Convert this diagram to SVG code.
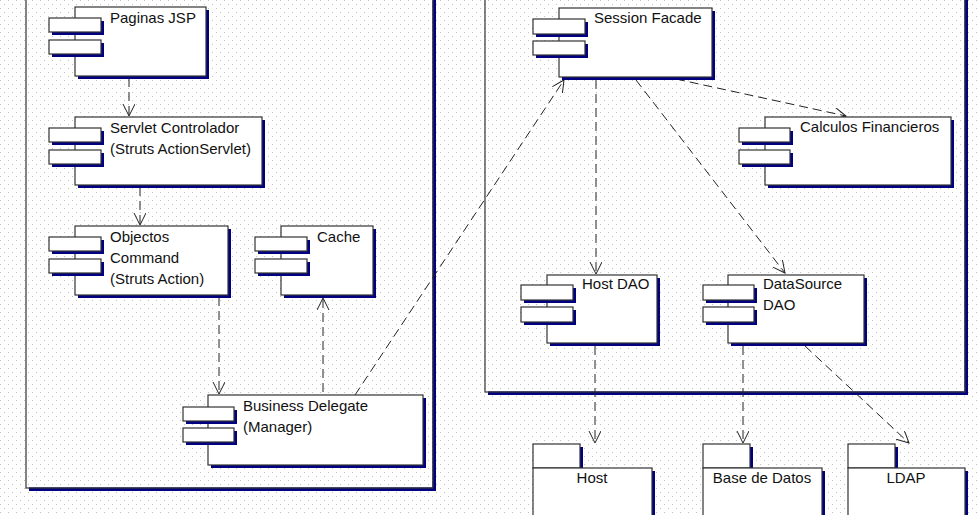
<svg xmlns="http://www.w3.org/2000/svg" width="980" height="515" viewBox="0 0 980 515">
<style>
.sh{fill:#000080}
.bx{fill:#fff;stroke:#333;stroke-width:1.2}
.ct{fill:none;stroke:#333;stroke-width:1.2}
.t{font-family:"Liberation Sans",Arial,sans-serif;font-size:15px;fill:#111}
.c{stroke:#222;stroke-width:1;fill:none;stroke-dasharray:9,5;marker-end:url(#a)}
</style>
<defs>
<pattern id="dots" width="8" height="8" patternUnits="userSpaceOnUse">
<rect x="0" y="0" width="1" height="1" fill="#c0c0c0"/>
<rect x="4" y="4" width="1" height="1" fill="#c0c0c0"/>
</pattern>
<marker id="a" markerWidth="14" markerHeight="14" refX="12" refY="6" orient="auto" markerUnits="userSpaceOnUse">
<path d="M0,0 L12,6 L0,12" fill="none" stroke="#222" stroke-width="1" stroke-dasharray="none"/>
</marker>
</defs>
<rect width="980" height="515" fill="#fff"/>
<rect width="980" height="515" fill="url(#dots)"/>

<g id="container-left">
<rect class="sh" x="29" y="-5" width="407" height="496"/>
<rect x="26.6" y="-8" width="405.8" height="495.4" fill="#fff"/>
<rect x="26.6" y="-8" width="405.8" height="495.4" fill="url(#dots)"/>
<rect class="ct" x="26" y="-8" width="407" height="496"/>
</g>
<g id="container-right">
<rect class="sh" x="488" y="-5" width="480" height="400"/>
<rect x="485.6" y="-8" width="478.8" height="399.4" fill="#fff"/>
<rect x="485.6" y="-8" width="478.8" height="399.4" fill="url(#dots)"/>
<rect class="ct" x="485" y="-8" width="480" height="400"/>
</g>

<g id="connectors">
<line class="c" x1="129" y1="78" x2="129" y2="116"/>
<line class="c" x1="140" y1="187" x2="140" y2="225"/>
<line class="c" x1="219" y1="297" x2="219" y2="394"/>
<line class="c" x1="323" y1="392" x2="323" y2="298"/>
<line class="c" x1="355" y1="395" x2="564" y2="80"/>
<line class="c" x1="676" y1="79" x2="846" y2="116"/>
<line class="c" x1="596" y1="80" x2="596" y2="274"/>
<line class="c" x1="636" y1="80" x2="785" y2="273"/>
<line class="c" x1="595" y1="346" x2="595" y2="443"/>
<line class="c" x1="743" y1="346" x2="743" y2="443"/>
<line class="c" x1="805" y1="346" x2="909" y2="443"/>
</g>

<g id="paginas-jsp">
<rect class="sh" x="78" y="10" width="131" height="69"/><rect class="bx" x="75" y="7" width="131" height="69"/>
<rect class="sh" x="52" y="21" width="52" height="14"/><rect class="bx" x="49" y="18" width="52" height="14"/>
<rect class="sh" x="52" y="43" width="52" height="14"/><rect class="bx" x="49" y="40" width="52" height="14"/>
<text class="t" x="110" y="23">Paginas JSP</text>
</g>
<g id="servlet-controlador">
<rect class="sh" x="78" y="120" width="187" height="68"/><rect class="bx" x="75" y="117" width="187" height="68"/>
<rect class="sh" x="52" y="131" width="52" height="14"/><rect class="bx" x="49" y="128" width="52" height="14"/>
<rect class="sh" x="52" y="153" width="52" height="14"/><rect class="bx" x="49" y="150" width="52" height="14"/>
<text class="t" x="110" y="133">Servlet Controlador</text>
<text class="t" x="110" y="154">(Struts ActionServlet)</text>
</g>
<g id="objectos-command">
<rect class="sh" x="78" y="229" width="153" height="69"/><rect class="bx" x="75" y="226" width="153" height="69"/>
<rect class="sh" x="52" y="240" width="52" height="14"/><rect class="bx" x="49" y="237" width="52" height="14"/>
<rect class="sh" x="52" y="262" width="52" height="14"/><rect class="bx" x="49" y="259" width="52" height="14"/>
<text class="t" x="110" y="242">Objectos</text>
<text class="t" x="110" y="263">Command</text>
<text class="t" x="110" y="284">(Struts Action)</text>
</g>
<g id="cache">
<rect class="sh" x="284" y="229" width="92" height="69"/><rect class="bx" x="281" y="226" width="92" height="69"/>
<rect class="sh" x="258" y="240" width="52" height="14"/><rect class="bx" x="255" y="237" width="52" height="14"/>
<rect class="sh" x="258" y="262" width="52" height="14"/><rect class="bx" x="255" y="259" width="52" height="14"/>
<text class="t" x="317" y="242">Cache</text>
</g>
<g id="business-delegate">
<rect class="sh" x="211" y="398" width="215" height="70"/><rect class="bx" x="208" y="395" width="215" height="70"/>
<rect class="sh" x="186" y="410" width="51" height="14"/><rect class="bx" x="183" y="407" width="51" height="14"/>
<rect class="sh" x="186" y="431" width="51" height="14"/><rect class="bx" x="183" y="428" width="51" height="14"/>
<text class="t" x="243" y="411">Business Delegate</text>
<text class="t" x="243" y="432">(Manager)</text>
</g>
<g id="session-facade">
<rect class="sh" x="562" y="11" width="153" height="69"/><rect class="bx" x="559" y="8" width="153" height="69"/>
<rect class="sh" x="536" y="22" width="52" height="15"/><rect class="bx" x="533" y="19" width="52" height="15"/>
<rect class="sh" x="536" y="44" width="52" height="14"/><rect class="bx" x="533" y="41" width="52" height="14"/>
<text class="t" x="594" y="23">Session Facade</text>
</g>
<g id="calculos-financieros">
<rect class="sh" x="768" y="120" width="186" height="68"/><rect class="bx" x="765" y="117" width="186" height="68"/>
<rect class="sh" x="742" y="131" width="51" height="14"/><rect class="bx" x="739" y="128" width="51" height="14"/>
<rect class="sh" x="742" y="153" width="51" height="14"/><rect class="bx" x="739" y="150" width="51" height="14"/>
<text class="t" x="800" y="132">Calculos Financieros</text>
</g>
<g id="host-dao">
<rect class="sh" x="550" y="278" width="110" height="68"/><rect class="bx" x="547" y="275" width="110" height="68"/>
<rect class="sh" x="524" y="288" width="52" height="15"/><rect class="bx" x="521" y="285" width="52" height="15"/>
<rect class="sh" x="524" y="310" width="52" height="15"/><rect class="bx" x="521" y="307" width="52" height="15"/>
<text class="t" x="582" y="289">Host DAO</text>
</g>
<g id="datasource-dao">
<rect class="sh" x="731" y="278" width="136" height="68"/><rect class="bx" x="728" y="275" width="136" height="68"/>
<rect class="sh" x="706" y="288" width="51" height="15"/><rect class="bx" x="703" y="285" width="51" height="15"/>
<rect class="sh" x="706" y="310" width="51" height="15"/><rect class="bx" x="703" y="307" width="51" height="15"/>
<text class="t" x="763" y="289">DataSource</text>
<text class="t" x="763" y="310">DAO</text>
</g>
<g id="pkg-host">
<rect class="sh" x="536" y="447" width="47" height="24"/><rect class="bx" x="533" y="444" width="47" height="24"/>
<rect class="sh" x="536" y="471" width="119" height="60"/><rect class="bx" x="533" y="468" width="119" height="60"/>
<text class="t" x="592" y="483" text-anchor="middle">Host</text>
</g>
<g id="pkg-base-de-datos">
<rect class="sh" x="706" y="447" width="47" height="24"/><rect class="bx" x="703" y="444" width="47" height="24"/>
<rect class="sh" x="706" y="471" width="119" height="60"/><rect class="bx" x="703" y="468" width="119" height="60"/>
<text class="t" x="762" y="483" text-anchor="middle">Base de Datos</text>
</g>
<g id="pkg-ldap">
<rect class="sh" x="851" y="447" width="47" height="24"/><rect class="bx" x="848" y="444" width="47" height="24"/>
<rect class="sh" x="851" y="471" width="117" height="60"/><rect class="bx" x="848" y="468" width="117" height="60"/>
<text class="t" x="906" y="483" text-anchor="middle">LDAP</text>
</g>
</svg>
